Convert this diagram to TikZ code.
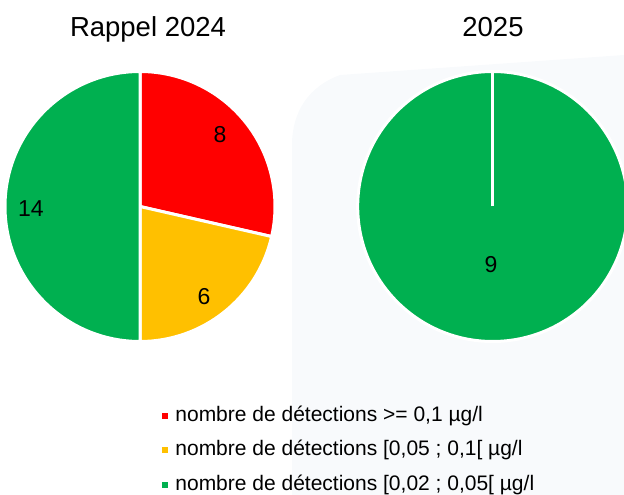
\documentclass[tikz,border=0pt]{standalone}
\usepackage{fontspec}
\setmainfont{Liberation Sans}
\usepackage{tikz}
\usetikzlibrary{positioning}
\definecolor{detred}{RGB}{255,0,0}
\definecolor{detyellow}{RGB}{255,192,0}
\definecolor{detgreen}{RGB}{0,176,80}
\definecolor{bgblue}{RGB}{248,250,252}

\begin{document}
\begin{tikzpicture}[x=1pt,y=1pt,slice/.style={draw=white,line width=3pt},num/.style={font=\fontsize{23}{26}\selectfont,inner sep=0pt},title/.style={font=\fontsize{27.5}{30}\selectfont,inner sep=0pt},legtext/.style={font=\fontsize{21}{24}\selectfont,anchor=west,inner sep=0pt},legbox/.style={minimum size=6pt,inner sep=0pt}] %
    \useasboundingbox (0,0) rectangle (624,495);
    \clip (0,0) rectangle (624,495);
    \fill[bgblue] (292,0) -- (292,350) to[out=90,in=200] (340,420) -- (624,440) -- (624,0) -- cycle; %
    \coordinate (c2024) at (140,288.5);
    \coordinate (c2025) at (492.7,288.5);
    \node[title] (t2024) at (148,466) {Rappel 2024} ; %
    \node[title] (t2025) at (493,468) {2025} ; %
    \filldraw[slice,fill=detred] (c2024) -- ++(-12.86:135) arc (-12.86:90:135) -- cycle;
    \filldraw[slice,fill=detyellow] (c2024) -- ++(-90:135) arc (-90:-12.86:135) -- cycle;
    \filldraw[slice,fill=detgreen] (c2024) -- ++(90:135) arc (90:270:135) -- cycle;
    \filldraw[slice,fill=detgreen] (c2025) circle (135);
    \draw[slice] (c2025) -- ++(90:135);
    \node[num] (n8) at (220,360) {8} ; %
    \node[num] (n6) at (204,198) {6} ; %
    \node[num] (n14) at (31,286) {14} ; %
    \node[num] (n9) at (491,230) {9} ; %
    % legend
    \node[legbox,fill=detred] (kred) at (165,79) {} ;
    \node[legbox,fill=detyellow,below=28pt of kred] (kyellow) {} ;
    \node[legbox,fill=detgreen,below=28pt of kyellow] (kgreen) {} ;
    \node[legtext,right=7pt of kred] (lred) {nombre de détections >= 0,1 µg/l};
    \node[legtext,right=7pt of kyellow] (lyellow) {nombre de détections [0,05 ; 0,1[ µg/l};
    \node[legtext,right=7pt of kgreen] (lgreen) {nombre de détections [0,02 ; 0,05[ µg/l};
  \end{tikzpicture}
\end{document}
